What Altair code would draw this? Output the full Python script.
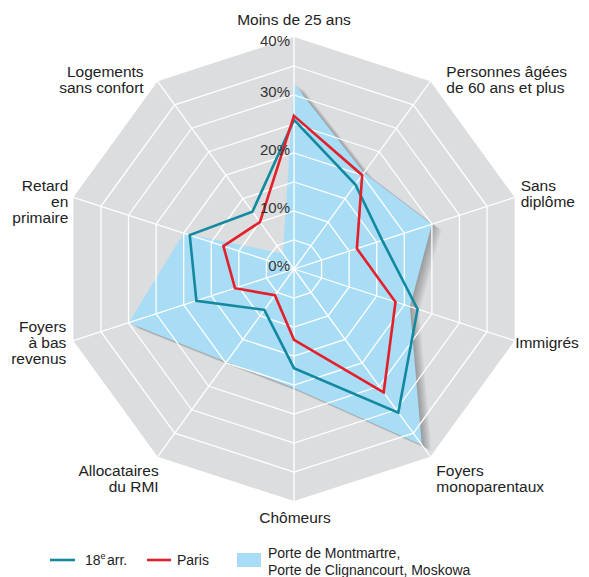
import altair as alt
import pandas as pd

# ---------------- data ----------------
axes = ["Moins de 25 ans", "Personnes âgées de 60 ans et plus", "Sans diplôme",
        "Immigrés", "Foyers monoparentaux", "Chômeurs", "Allocataires du RMI",
        "Foyers à bas revenus", "Retard en primaire", "Logements sans confort"]
axis_labels = ["Moins de 25 ans", "Personnes âgées\nde 60 ans et plus", "Sans\ndiplôme",
               "Immigrés", "Foyers\nmonoparentaux", "Chômeurs", "Allocataires\ndu RMI",
               "Foyers\nà bas\nrevenus", "Retard\nen\nprimaire", "Logements\nsans confort"]
quartiers = [32.0, 20.5, 25.0, 21.0, 37.5, 20.5, 19.8, 30.0, 20.0, 3.3]
arr18 = [25.7, 18.0, 16.0, 22.4, 30.6, 17.1, 8.7, 17.7, 18.9, 12.2]
paris = [26.4, 20.0, 11.4, 18.4, 26.3, 12.2, 5.6, 10.7, 12.8, 10.0]
rings = [5, 10, 15, 20, 25, 30, 35, 40]
tick_values = [0, 10, 20, 30, 40]
series_names = ["18e arr.", "Paris", "Porte de Montmartre,\nPorte de Clignancourt, Moskowa"]

# ---------------- layout ----------------
CX, CY, PX = 294, 269, 5.8
W, H = 573, 569
xs = alt.Scale(domain=[(8 - CX) / PX, (8 + W - CX) / PX], nice=False, zero=False)
ys = alt.Scale(domain=[(CY - 8 - H) / PX, (CY - 8) / PX], nice=False, zero=False)
N = len(axes)
RMAX = max(rings)

FONT = "Liberation Sans"
GRAY = "#dcdddf"
BLUE = "#a9ddf6"
TEAL = "#13899f"
RED = "#e3202a"


def polar(ch):
    return ch.transform_calculate(
        px=f"datum.r * sin(datum.idx * 2 * PI / {N})",
        py=f"datum.r * cos(datum.idx * 2 * PI / {N})",
    )


def XY():
    return dict(x=alt.X("px:Q", scale=xs, axis=None), y=alt.Y("py:Q", scale=ys, axis=None))


series_df = pd.DataFrame(
    [{"series": "quartiers", "idx": i, "r": v} for i, v in enumerate(quartiers)]
    + [{"series": "arr18", "idx": i, "r": v} for i, v in enumerate(arr18)]
    + [{"series": "paris", "idx": i, "r": v} for i, v in enumerate(paris)]
)
grid_df = pd.DataFrame([{"ring": g, "idx": i, "r": g} for g in rings for i in range(N)])
spoke_df = pd.DataFrame({"idx": list(range(N)), "r": [RMAX] * N, "z": [0] * N})
tick_df = pd.DataFrame({"idx": [0] * len(tick_values), "r": tick_values,
                        "label": [f"{t}%" for t in tick_values]})
label_df = pd.DataFrame({"idx": list(range(N)), "r": [RMAX] * N, "label": axis_labels})

layers = []

# gray decagon
layers.append(polar(alt.Chart(grid_df)).transform_filter(f"datum.ring == {RMAX}")
              .mark_line(interpolate="linear-closed", fill=GRAY, strokeOpacity=0)
              .encode(**XY(), order="idx:Q"))

# shadow of the blue area
for k in range(1, 9):
    layers.append(polar(alt.Chart(series_df)).transform_filter("datum.series == 'quartiers'")
                  .mark_line(interpolate="linear-closed", fill="#000000", fillOpacity=0.04,
                             strokeOpacity=0, xOffset=k * 1.2, yOffset=k * 0.75)
                  .encode(**XY(), order="idx:Q"))

# blue area
layers.append(polar(alt.Chart(series_df)).transform_filter("datum.series == 'quartiers'")
              .mark_line(interpolate="linear-closed", fill=BLUE, strokeOpacity=0)
              .encode(**XY(), order="idx:Q"))

# white grid rings
layers.append(polar(alt.Chart(grid_df)).transform_filter(f"datum.ring < {RMAX}")
              .mark_line(interpolate="linear-closed", stroke="white", strokeWidth=1.3)
              .encode(**XY(), detail="ring:N", order="idx:Q"))

# spokes
layers.append(polar(alt.Chart(spoke_df))
              .mark_rule(stroke="white", strokeWidth=1.3)
              .encode(x=alt.X("z:Q", scale=xs, axis=None), y=alt.Y("z:Q", scale=ys, axis=None),
                      x2="px:Q", y2="py:Q"))

# series lines
for name, col in [("arr18", TEAL), ("paris", RED)]:
    layers.append(polar(alt.Chart(series_df)).transform_filter(f"datum.series == '{name}'")
                  .mark_line(interpolate="linear-closed", stroke=col, strokeWidth=2.6,
                             strokeJoin="miter")
                  .encode(**XY(), order="idx:Q"))

# tick labels
layers.append(polar(alt.Chart(tick_df)).transform_filter(f"datum.r < {RMAX}")
              .mark_text(align="right", baseline="middle", dx=-4, dy=-3, font=FONT,
                         fontSize=15, color="#333333")
              .encode(**XY(), text="label:N"))
layers.append(polar(alt.Chart(tick_df)).transform_filter(f"datum.r == {RMAX}")
              .mark_text(align="right", baseline="middle", dx=-4, dy=4, font=FONT,
                         fontSize=15, color="#333333")
              .encode(**XY(), text="label:N"))

# axis labels (first line placed at the anchor)
placements = [("center", 0, -17), ("left", 16, -9.5), ("left", 6, -11.5), ("left", 0.5, 2),
              ("left", 6, 14), ("center", 1, 16.5), ("right", 1, 14), ("right", -7, -14),
              ("right", -5, -11.5), ("right", -14, -9.5)]
for i, (al, dx, dy) in enumerate(placements):
    layers.append(polar(alt.Chart(label_df)).transform_filter(f"datum.idx == {i}")
                  .mark_text(align=al, baseline="middle", dx=dx, dy=dy, font=FONT,
                             fontSize=15.5, lineHeight=16.3, lineBreak="\n", color="#222222")
                  .encode(**XY(), text="label:N"))

# legend (drawn by hand)
one = alt.Chart(pd.DataFrame({"a": [0]}))
layers.append(one.mark_rule(stroke=TEAL, strokeWidth=2.6)
              .encode(x=alt.value(42), x2=alt.value(67), y=alt.value(552)))
layers.append(one.mark_rule(stroke=RED, strokeWidth=2.6)
              .encode(x=alt.value(139), x2=alt.value(163), y=alt.value(552)))
layers.append(one.mark_rect(fill=BLUE)
              .encode(x=alt.value(229), x2=alt.value(253), y=alt.value(545), y2=alt.value(559)))
leg_txt = dict(font=FONT, fontSize=14, color="#222222", align="left", baseline="middle")
p18 = series_names[0].split("e", 1)
layers.append(one.mark_text(**leg_txt).encode(x=alt.value(77), y=alt.value(553), text=alt.value(p18[0])))
layers.append(one.mark_text(font=FONT, fontSize=9, color="#222222", align="left", baseline="middle")
              .encode(x=alt.value(92.5), y=alt.value(548), text=alt.value("e")))
layers.append(one.mark_text(**leg_txt).encode(x=alt.value(99), y=alt.value(553), text=alt.value(p18[1].strip())))
layers.append(one.mark_text(**leg_txt).encode(x=alt.value(169), y=alt.value(553), text=alt.value(series_names[1])))
layers.append(one.mark_text(lineBreak="\n", lineHeight=16.5, **leg_txt)
              .encode(x=alt.value(260), y=alt.value(546), text=alt.value(series_names[2])))

chart = alt.layer(*layers).properties(
    width=W, height=H, padding=0, autosize="none"
).configure_view(stroke=None)

chart.save("out.html", embed_options={"renderer": "svg", "actions": False})
